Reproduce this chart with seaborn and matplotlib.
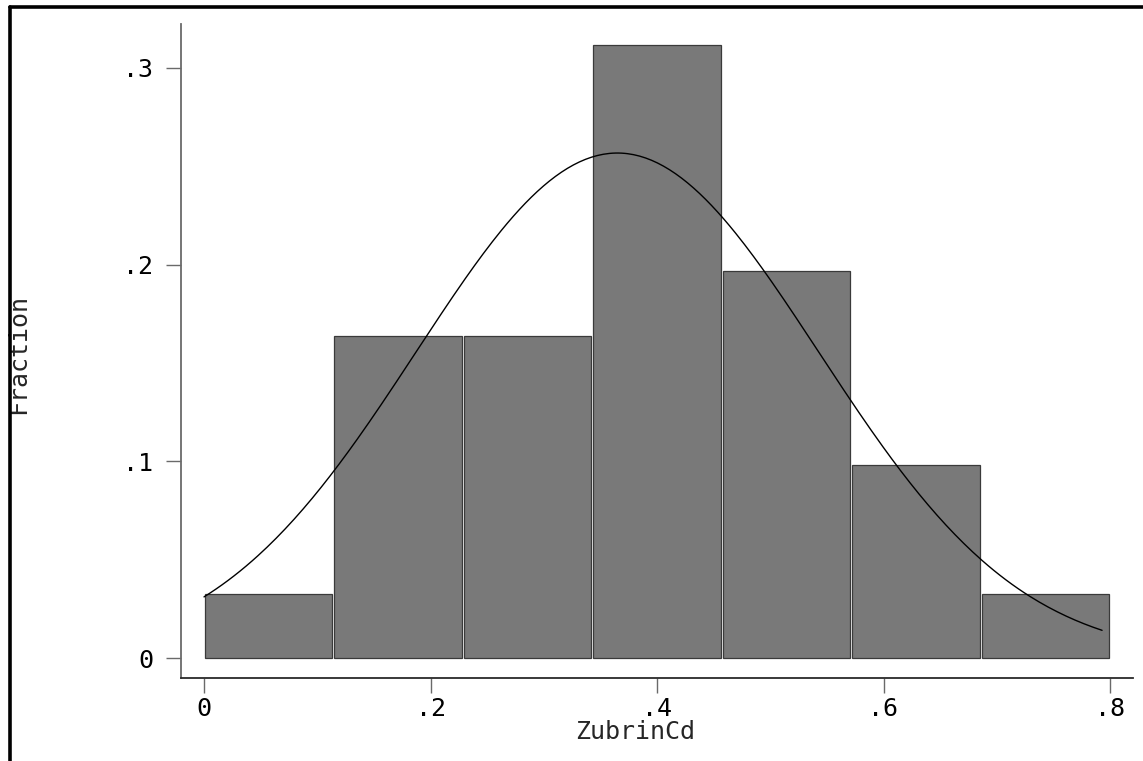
import numpy as np
import pandas as pd
import matplotlib
matplotlib.use("Agg")
import matplotlib.pyplot as plt
from matplotlib.lines import Line2D
import seaborn as sns

# Histogram of ZubrinCd: 7 equal bins over [0, 0.8], heights as fractions of n = 61
bin_edges = [0.0, 0.8 / 7, 1.6 / 7, 2.4 / 7, 3.2 / 7, 4.0 / 7, 4.8 / 7, 0.8]
fractions = [2 / 61, 10 / 61, 10 / 61, 19 / 61, 12 / 61, 6 / 61, 2 / 61]

# Overlaid normal curve (scaled to the fraction axis)
norm_mean = 0.365
norm_sd = 0.1776
curve_range = [0.0, 0.793]

x_ticks = [0, 0.2, 0.4, 0.6, 0.8]
x_tick_labels = ["0", ".2", ".4", ".6", ".8"]
y_ticks = [0, 0.1, 0.2, 0.3]
y_tick_labels = ["0", ".1", ".2", ".3"]

sns.set_theme(style="white")
plt.rcParams["font.family"] = ["DejaVu Sans Mono", "DejaVu Sans"]

W, H = 1143, 761
fig = plt.figure(figsize=(W / 100, H / 100), dpi=100)
ax = fig.add_axes([181 / W, 1 - 678 / H, (1133 - 181) / W, (678 - 24) / H])

centers = [(a + b) / 2 for a, b in zip(bin_edges[:-1], bin_edges[1:])]
df = pd.DataFrame({"ZubrinCd": centers, "w": fractions})
sns.histplot(data=df, x="ZubrinCd", weights="w", bins=bin_edges, stat="count",
             shrink=0.985, color="#797979", alpha=1.0, edgecolor="#3a3a3a",
             linewidth=0.9, ax=ax)

binw = bin_edges[1] - bin_edges[0]
xs = np.linspace(curve_range[0], curve_range[1], 300)
ys = binw * np.exp(-0.5 * ((xs - norm_mean) / norm_sd) ** 2) / (norm_sd * np.sqrt(2 * np.pi))
sns.lineplot(x=xs, y=ys, color="black", linewidth=1.0, ax=ax)

ax.set_xlim((181 - 204) / 1132.5, (1133 - 204) / 1132.5)
ax.set_ylim((658 - 678) / 1967, (658 - 24) / 1967)

ax.set_xticks(x_ticks)
ax.set_xticklabels(x_tick_labels)
ax.set_yticks(y_ticks)
ax.set_yticklabels(y_tick_labels)
ax.tick_params(axis="both", which="major", direction="out", length=11, width=1.0,
               color="#6a6a6a", labelsize=18, labelcolor="black",
               left=True, bottom=True)
ax.tick_params(axis="x", pad=3)
ax.tick_params(axis="y", pad=9)

for side in ["top", "right"]:
    ax.spines[side].set_visible(False)
ax.spines["left"].set_color("#6a6a6a")
ax.spines["left"].set_linewidth(1.3)
ax.spines["bottom"].set_color("#2a2a2a")
ax.spines["bottom"].set_linewidth(1.3)

ax.set_xlabel("ZubrinCd", fontsize=18)
ax.xaxis.set_label_coords(0.477, -0.064)
ax.set_ylabel("Fraction", fontsize=18)
ax.yaxis.set_label_coords(-0.159, 0.495)

# Frame lines along the top and left edges of the figure
fig.add_artist(Line2D([9.5 / W, 1.0], [1 - 6.5 / H, 1 - 6.5 / H], transform=fig.transFigure,
                      color="black", linewidth=2.6))
fig.add_artist(Line2D([9.5 / W, 9.5 / W], [0.0, 1 - 6.5 / H], transform=fig.transFigure,
                      color="black", linewidth=2.6))

fig.savefig("out.png", dpi=100)
